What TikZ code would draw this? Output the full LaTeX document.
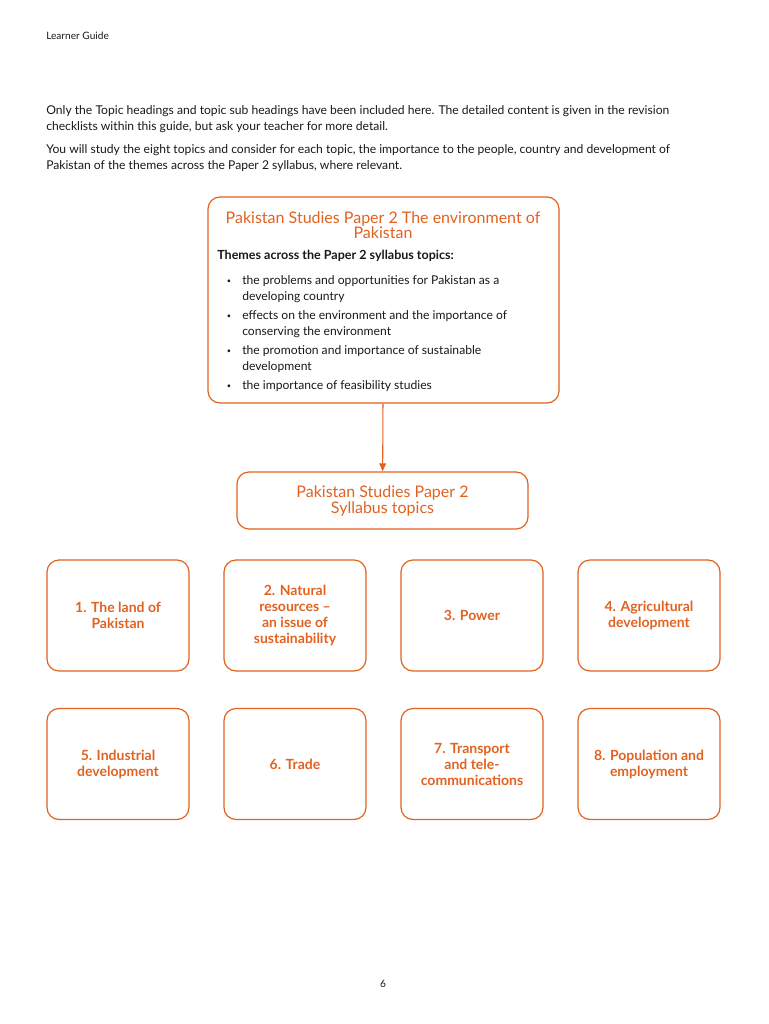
\documentclass[tikz,border=0pt]{standalone}
\usepackage{fontspec}
\setmainfont{Lato}
\usetikzlibrary{arrows.meta}

\definecolor{camorange}{RGB}{226,98,32}
\definecolor{bodygrey}{RGB}{25,25,25}

\tikzset{
  orangebox/.style={draw=camorange, line width=0.9pt, rounded corners=9pt, inner sep=0pt},
  topicbox/.style={orangebox, minimum width=106.5pt, minimum height=83.25pt,
    align=center, text=camorange, font=\fontsize{10.5}{12}\selectfont\bfseries},
  bodytext/.style={inner sep=0pt, text=bodygrey, align=left, font=\fontsize{9.1}{12}\selectfont},
  bulletmark/.style={inner sep=0pt, text=bodygrey, font=\fontsize{5.5}{6}\selectfont}
}

\begin{document}
\begin{tikzpicture}[x=0.75pt, y=-0.75pt]
\useasboundingbox[fill=white] (0,0) rectangle (768,1024);

% page header and intro
\node[bodytext, anchor=west, font=\fontsize{7.6}{9}\selectfont] (header) at (46,36) {Learner Guide};
\node[bodytext, anchor=north west] (introa) at (46,105.5)
  {Only the Topic headings and topic sub headings have been included here. The detailed content is given in the revision\\
   checklists within this guide, but ask your teacher for more detail.};
\node[bodytext, anchor=north west] (introb) at (46,144.5)
  {You will study the eight topics and consider for each topic, the importance to the people, country and development of\\
   Pakistan of the themes across the Paper 2 syllabus, where relevant.};

% environment box
\node[orangebox, minimum width=263.25pt, minimum height=154.5pt] (envbox) at (383.5,300) {};
\node[inner sep=0pt, align=center, text=camorange, font=\fontsize{12}{11.3}\selectfont] (envtitle) at (383,225)
  {Pakistan Studies Paper 2 The environment of\\Pakistan};
\node[bodytext, anchor=west, font=\fontsize{9.4}{12}\selectfont\bfseries] (themes) at (217,256)
  {Themes across the Paper 2 syllabus topics:};

\node[bulletmark] (b1) at (229,281.5) {•};
\node[bodytext, anchor=north west] (t1) at (242,275) {the problems and opportunities for Pakistan as a\\developing country};
\node[bulletmark] (b2) at (229,316.5) {•};
\node[bodytext, anchor=north west] (t2) at (242,310) {effects on the environment and the importance of\\conserving the environment};
\node[bulletmark] (b3) at (229,351.5) {•};
\node[bodytext, anchor=north west] (t3) at (242,345) {the promotion and importance of sustainable\\development};
\node[bulletmark] (b4) at (229,386.5) {•};
\node[bodytext, anchor=north west] (t4) at (242,380) {the importance of feasibility studies};

% syllabus box
\node[orangebox, minimum width=218.25pt, minimum height=42.75pt, align=center,
  text=camorange, font=\fontsize{12}{12}\selectfont] (syllabus) at (382.5,500.5)
  {Pakistan Studies Paper 2\\Syllabus topics};

\draw[camorange, line width=0.8pt, -{Triangle[length=6pt,width=5pt]}] (envbox) -- (syllabus);

% the eight topics
\node[topicbox] (topic1) at (118,615.5) {1. The land of\\Pakistan};
\node[topicbox] (topic2) at (295,615.5) {2. Natural\\resources --\\an issue of\\sustainability};
\node[topicbox] (topic3) at (472,615.5) {3. Power};
\node[topicbox] (topic4) at (649,615.5) {4. Agricultural\\development};
\node[topicbox] (topic5) at (118,764) {5. Industrial\\development};
\node[topicbox] (topic6) at (295,764) {6. Trade};
\node[topicbox] (topic7) at (472,764) {7. Transport\\and tele-\\communications};
\node[topicbox] (topic8) at (649,764) {8. Population and\\employment};

\node[inner sep=0pt, text=bodygrey, font=\fontsize{7.6}{9}\selectfont] (pagenum) at (383,984) {6};
\end{tikzpicture}
\end{document}
